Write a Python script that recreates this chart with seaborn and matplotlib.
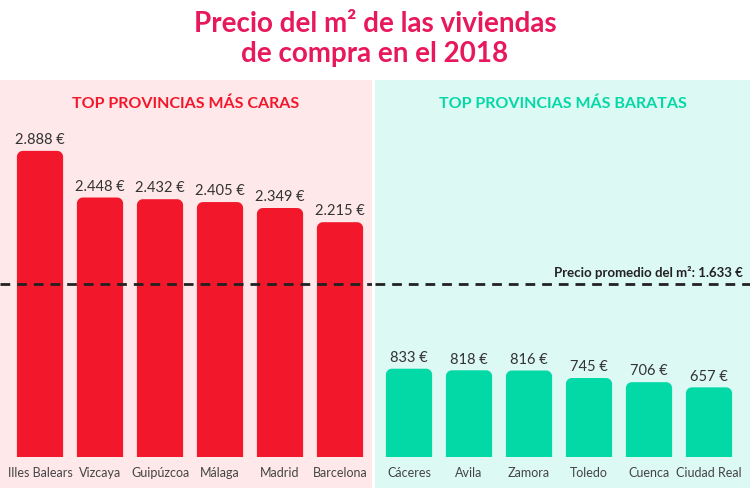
import numpy as np
import pandas as pd
import matplotlib as mpl
import matplotlib.pyplot as plt
import seaborn as sns
from matplotlib.path import Path
from matplotlib.patches import PathPatch

mpl.use('Agg')

# Data
caras_provincias = ['Illes Balears', 'Vizcaya', 'Guipúzcoa', 'Málaga', 'Madrid', 'Barcelona']
caras_precio = [2888, 2448, 2432, 2405, 2349, 2215]
baratas_provincias = ['Cáceres', 'Avila', 'Zamora', 'Toledo', 'Cuenca', 'Ciudad Real']
baratas_precio = [833, 818, 816, 745, 706, 657]
promedio = 1633

# Style
W, H, dpi = 750, 489, 100
red = '#f3172b'
green = '#02d9a6'
pink_bg = '#fee8ea'
cyan_bg = '#dcf9f3'
title_color = '#e8185c'
px_per_unit = 0.106          # pixels per euro
base_px = 458                # y pixel of bar base (from top)
panel_top = 81
radius_px = 6

sns.set_style('white')
plt.rcParams['font.family'] = ['Lato', 'DejaVu Sans']


def fmt(v):
    return f'{v:,}'.replace(',', '.') + ' €'


def round_top(ax, patch, color):
    # replace a bar with one whose top corners are rounded
    bx, bw, bh = patch.get_x(), patch.get_width(), patch.get_height()
    rx = radius_px / 60
    ry = radius_px / px_per_unit
    t = np.linspace(0, np.pi / 2, 12)
    pts = [(bx, 0)]
    pts += [(bx + rx - rx * np.cos(a), bh - ry + ry * np.sin(a)) for a in t]
    pts += [(bx + bw - rx + rx * np.sin(a), bh - ry + ry * np.cos(a)) for a in t]
    pts += [(bx + bw, 0), (bx, 0)]
    codes = [Path.MOVETO] + [Path.LINETO] * (len(pts) - 2) + [Path.CLOSEPOLY]
    ax.add_patch(PathPatch(Path(pts, codes), facecolor=color, edgecolor='none', lw=0))
    patch.set_visible(False)


fig = plt.figure(figsize=(W / dpi, H / dpi), dpi=dpi, facecolor='white')

fig.text(0.5, 1 - 24 / H, 'Precio del m² de las viviendas', ha='center', va='center',
         fontsize=20, fontweight='bold', color=title_color)
fig.text(0.5, 1 - 54 / H, 'de compra en el 2018', ha='center', va='center',
         fontsize=20, fontweight='bold', color=title_color)

ylo = -(H - base_px) / px_per_unit
yhi = (base_px - panel_top) / px_per_unit
panels = [
    (0, 372, 40, caras_provincias, caras_precio, red, pink_bg, 'TOP PROVINCIAS MÁS CARAS'),
    (375, 750, 409, baratas_provincias, baratas_precio, green, cyan_bg, 'TOP PROVINCIAS MÁS BARATAS'),
]

for left, right, first_px, names, vals, color, bg, head in panels:
    ax = fig.add_axes([left / W, 0, (right - left) / W, (H - panel_top) / H])
    ax.set_facecolor(bg)
    df = pd.DataFrame({'provincia': names, 'precio': vals})
    sns.barplot(data=df, x='provincia', y='precio', color=color, width=0.77,
                saturation=1, ax=ax)
    ax.set_xlim((left - first_px) / 60, (right - first_px) / 60)
    ax.set_ylim(ylo, yhi)
    ax.set_xticks([])
    ax.set_yticks([])
    ax.set_xlabel('')
    ax.set_ylabel('')
    sns.despine(ax=ax, left=True, bottom=True)

    for p in list(ax.patches):
        round_top(ax, p, color)

    for i, (n, v) in enumerate(zip(names, vals)):
        ax.text(i, v + 45, fmt(v), ha='center', va='bottom', fontsize=10.5, color='#333333')
        ax.text(i, -142, n, ha='center', va='center', fontsize=9, color='#444444')

    ax.text(0.5, 1 - 23 / (H - panel_top), head, transform=ax.transAxes, ha='center',
            va='center', fontsize=11.5, fontweight='bold', color=color)
    ax.axhline(promedio, color='#222222', linestyle=(0, (3.5, 2.5)), linewidth=2, zorder=4)

line_px = base_px - promedio * px_per_unit
fig.text(743 / W, 1 - (line_px - 12) / H, f'Precio promedio del m²: {fmt(promedio)}',
         ha='right', va='center', fontsize=9.5, fontweight='bold', color='#222222')

fig.savefig('out.png', dpi=dpi, facecolor='white')
